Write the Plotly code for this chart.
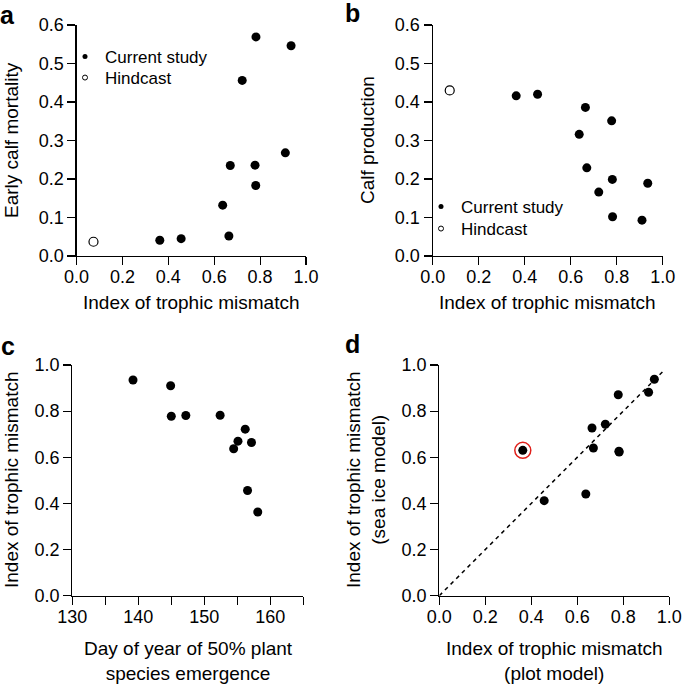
import plotly.graph_objects as go

# ---------------- data ----------------
mismatch = [0.363, 0.456, 0.637, 0.664, 0.670, 0.722, 0.778, 0.781, 0.782, 0.910, 0.935]
mortality = [0.041, 0.045, 0.132, 0.052, 0.235, 0.456, 0.236, 0.183, 0.569, 0.268, 0.546]
production = [0.416, 0.420, 0.316, 0.386, 0.229, 0.166, 0.351, 0.199, 0.102, 0.093, 0.189]
emergence_day = [158.1, 156.55, 154.45, 157.15, 155.1, 156.2, 145.0, 147.2, 152.4, 144.9, 139.2]
sea_ice_mismatch = [0.630, 0.412, 0.441, 0.727, 0.640, 0.743, 0.871, 0.626, 0.623, 0.882, 0.938]
highlight_index = [0]

hind_mismatch = [0.074]
hind_mortality = [0.037]
hind_production = [0.430]

one_to_one = [0.0, 0.98]

tick_01 = [0.0, 0.1, 0.2, 0.3, 0.4, 0.5, 0.6]
tick_02 = [0.0, 0.2, 0.4, 0.6, 0.8, 1.0]
day_ticks = [130, 135, 140, 145, 150, 155, 160, 165]
day_labels = ["130", "", "140", "", "150", "", "160", ""]

# ---------------- layout helpers ----------------
W, H = 685, 684
FONT = "Liberation Sans, Arial, Helvetica, sans-serif"


def px(x):
    return x / W


def py(y):
    return 1 - y / H


fig = go.Figure()

mk = dict(color="black", size=9)
open_mk = dict(color="white", size=9, line=dict(color="black", width=1.2))

# panel a
fig.add_trace(go.Scatter(x=mismatch, y=mortality, mode="markers", marker=mk,
                         xaxis="x", yaxis="y", showlegend=False))
fig.add_trace(go.Scatter(x=hind_mismatch, y=hind_mortality, mode="markers", marker=open_mk,
                         xaxis="x", yaxis="y", showlegend=False))
# panel b
fig.add_trace(go.Scatter(x=mismatch, y=production, mode="markers", marker=mk,
                         xaxis="x2", yaxis="y2", showlegend=False))
fig.add_trace(go.Scatter(x=hind_mismatch, y=hind_production, mode="markers", marker=open_mk,
                         xaxis="x2", yaxis="y2", showlegend=False))
# legend entries (small symbols as in the reference), one legend box per entry
legend_items = [
    ("legend", "Current study", dict(color="black", size=5), "x", "y"),
    ("legend2", "Hindcast", dict(color="white", size=5, line=dict(color="black", width=1)), "x", "y"),
    ("legend3", "Current study", dict(color="black", size=5), "x2", "y2"),
    ("legend4", "Hindcast", dict(color="white", size=5, line=dict(color="black", width=1)), "x2", "y2"),
]
for lg, name, m, xa, ya in legend_items:
    fig.add_trace(go.Scatter(x=[None], y=[None], mode="markers", name=name, marker=m,
                             xaxis=xa, yaxis=ya, legend=lg, showlegend=True))
# panel c
fig.add_trace(go.Scatter(x=emergence_day, y=mismatch, mode="markers", marker=mk,
                         xaxis="x3", yaxis="y3", showlegend=False))
# panel d
fig.add_trace(go.Scatter(x=one_to_one, y=one_to_one, mode="lines",
                         line=dict(color="black", width=1.5, dash="4px,4px"),
                         xaxis="x4", yaxis="y4", showlegend=False))
fig.add_trace(go.Scatter(x=[mismatch[i] for i in highlight_index],
                         y=[sea_ice_mismatch[i] for i in highlight_index], mode="markers",
                         marker=dict(color="white", size=16, line=dict(color="#e0201b", width=1.5)),
                         xaxis="x4", yaxis="y4", showlegend=False))
fig.add_trace(go.Scatter(x=mismatch, y=sea_ice_mismatch, mode="markers", marker=mk,
                         xaxis="x4", yaxis="y4", showlegend=False))

TICKF = dict(family=FONT, size=18, color="black")
common = dict(showline=True, linecolor="black", linewidth=1.2, ticks="outside", ticklen=8,
              tickwidth=1.2, tickcolor="black", showgrid=False, zeroline=False,
              tickfont=TICKF, fixedrange=True, automargin=False)
xcommon = dict(common, ticklabelstandoff=-4)
ycommon = dict(common, ticklabelstandoff=0)

# pixel frames: (x0, x1, ytop, ybottom)
A = (76.5, 306, 25, 256)
B = (432.7, 662.7, 25, 256)
C = (72.3, 303.3, 365, 595.7)
D = (439.3, 669.3, 365, 595.7)


def dom_x(f):
    return [px(f[0]), px(f[1])]


def dom_y(f):
    return [py(f[3]), py(f[2])]


LEGF = dict(family=FONT, size=17, color="black")


def leg(xp, ytop):
    return dict(x=px(xp), y=py(ytop), xanchor="left", yanchor="top", bgcolor="rgba(0,0,0,0)",
                font=LEGF, itemwidth=30)


fig.update_layout(
    template="none",
    width=W, height=H, margin=dict(l=0, r=0, t=0, b=0, pad=0, autoexpand=False),
    paper_bgcolor="white", plot_bgcolor="white",
    font=dict(family=FONT, color="black"),
    hovermode=False,
    xaxis=dict(domain=dom_x(A), range=[0, 1], tickvals=tick_02, tickformat=".1f", anchor="y", **xcommon),
    yaxis=dict(domain=dom_y(A), range=[0, 0.6], tickvals=tick_01, tickformat=".1f", anchor="x", **ycommon),
    xaxis2=dict(domain=dom_x(B), range=[0, 1], tickvals=tick_02, tickformat=".1f", anchor="y2", **xcommon),
    yaxis2=dict(domain=dom_y(B), range=[0, 0.6], tickvals=tick_01, tickformat=".1f", anchor="x2", **ycommon),
    xaxis3=dict(domain=dom_x(C), range=[130, 165], tickvals=day_ticks, ticktext=day_labels, anchor="y3", **xcommon),
    yaxis3=dict(domain=dom_y(C), range=[0, 1], tickvals=tick_02, tickformat=".1f", anchor="x3", **ycommon),
    xaxis4=dict(domain=dom_x(D), range=[0, 1], tickvals=tick_02, tickformat=".1f", anchor="y4", **xcommon),
    yaxis4=dict(domain=dom_y(D), range=[0, 1], tickvals=tick_02, tickformat=".1f", anchor="x4", **ycommon),
    legend=leg(65, 39),
    legend2=leg(65, 60),
    legend3=leg(421, 189),
    legend4=leg(421, 211),
)

TITLEF = dict(family=FONT, size=19, color="black")
ann = []


def text(x, y, s, rot=0, font=TITLEF, xanchor="center", yanchor="middle"):
    ann.append(dict(x=px(x), y=py(y), xref="paper", yref="paper", text=s, showarrow=False,
                    textangle=rot, font=font, xanchor=xanchor, yanchor=yanchor))


# axis titles
text(191, 302, "Index of trophic mismatch")
text(11, 140, "Early calf mortality", rot=-90)
text(547, 302, "Index of trophic mismatch")
text(367, 140, "Calf production", rot=-90)
text(188, 661, "Day of year of 50% plant<br>species emergence")
text(11, 480, "Index of trophic mismatch", rot=-90)
text(554, 661, "Index of trophic mismatch<br>(plot model)")
text(366, 480, "Index of trophic mismatch<br>(sea ice model)", rot=-90)

# panel letters
LET = dict(family=FONT, size=25, color="black")
text(8, 15, "<b>a</b>", font=LET)
text(353, 13, "<b>b</b>", font=LET)
text(8, 346, "<b>c</b>", font=LET)
text(353, 344, "<b>d</b>", font=LET)

fig.update_layout(annotations=ann)
fig.write_html(
    "out.html",
    config={"displayModeBar": False, "staticPlot": True},
    post_script="document.body.style.margin='0';document.body.style.overflow='hidden';",
)
